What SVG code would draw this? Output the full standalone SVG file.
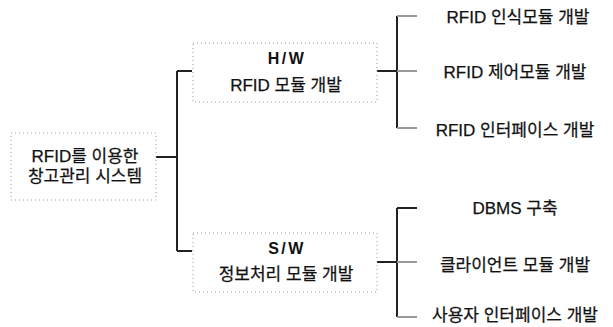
<svg xmlns="http://www.w3.org/2000/svg" width="613" height="327" viewBox="0 0 613 327">
<style>
.box{fill:#fff;stroke:#9a9a9a;stroke-width:1;stroke-dasharray:1 3}
.t{font-family:"Liberation Sans","Noto Sans CJK KR",sans-serif;font-size:17px;fill:#111;text-anchor:middle;stroke:#111;stroke-width:0.25}
.b{font-family:"Liberation Sans",sans-serif;font-size:16px;font-weight:bold;fill:#111;text-anchor:middle;letter-spacing:2.5px}
.c{fill:none;stroke:#222;stroke-width:2}
.s{fill:none;stroke:#999;stroke-width:2}
</style>
<rect width="613" height="327" fill="#fff"/>
<g id="connectors">
<path class="c" d="M156 157H177M177 71V251M177 71H192M177 251H192"/>
<path class="c" d="M377 71H397M397 16V128"/>
<path class="s" d="M397 16H417M397 71H417M397 128H417"/>
<path class="c" d="M377 262H397M397 208V317M397 208H417"/>
<path class="s" d="M397 262H417M397 317H417" stroke="#666"/>
</g>
<g id="root">
<rect class="box" x="11" y="133" width="145" height="67"/>
<text class="t" x="85" y="162">RFID를 이용한</text>
<text class="t" x="85" y="182">창고관리 시스템</text>
</g>
<g id="hw">
<rect class="box" x="193" y="43" width="184" height="59"/>
<text class="b" x="287" y="64">H/W</text>
<text class="t" x="286" y="91">RFID 모듈 개발</text>
</g>
<g id="sw">
<rect class="box" x="193" y="233" width="184" height="59"/>
<text class="b" x="287" y="254">S/W</text>
<text class="t" x="286" y="280">정보처리 모듈 개발</text>
</g>
<g id="n1"><text class="t" x="518" y="23">RFID 인식모듈 개발</text></g>
<g id="n2"><text class="t" x="515" y="78">RFID 제어모듈 개발</text></g>
<g id="n3"><text class="t" x="515" y="136">RFID 인터페이스 개발</text></g>
<g id="n4"><text class="t" x="515" y="214">DBMS 구축</text></g>
<g id="n5"><text class="t" x="515" y="271">클라이언트 모듈 개발</text></g>
<g id="n6"><text class="t" x="515" y="321">사용자 인터페이스 개발</text></g>
</svg>
